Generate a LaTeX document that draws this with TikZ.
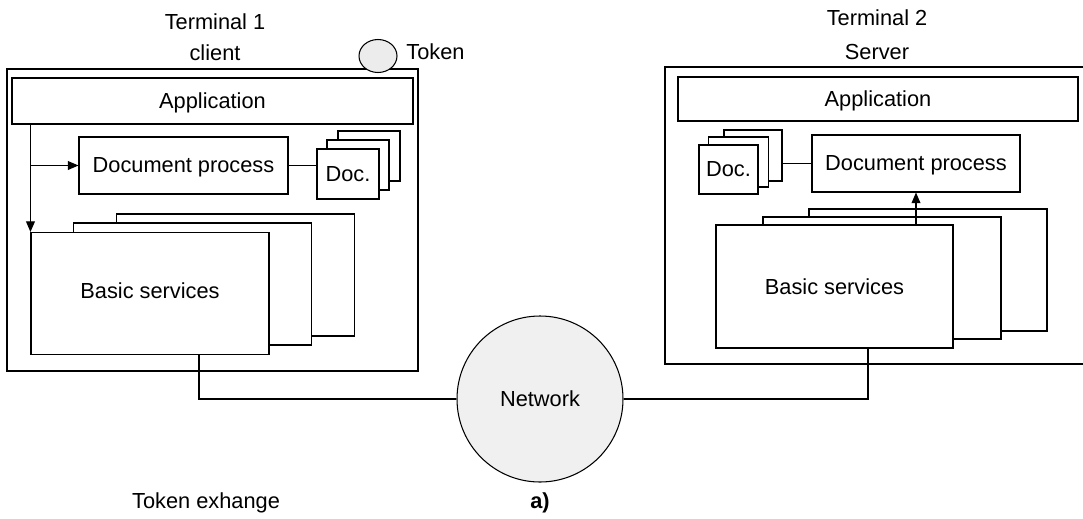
\documentclass[tikz,border=0pt]{standalone}
\usepackage{fontspec}
\setmainfont{Liberation Sans}
\usetikzlibrary{arrows.meta,shapes.geometric}

\begin{document}
\begin{tikzpicture}[x=0.02cm,y=-0.02cm,
                    font=\fontsize{12.4}{14}\selectfont,
                    line width=0.6pt,
                    blk/.style n args={2}{draw,fill=white,rectangle,
                    inner sep=0pt,text depth=0pt,
                    minimum width=#1*0.02cm,
                    minimum height=#2*0.02cm},
                    arr/.style={-{Triangle[length=6pt,width=5pt]}}]
    \useasboundingbox (0,0) rectangle (1083,518);
    \clip (0,0) rectangle (1083,518);

    \node (t1a) at (215,22) {Terminal 1};
    \node (t1b) at (215,53) {client};
    \node (t2a) at (877,18) {Terminal 2};
    \node (t2b) at (877,52) {Server};

    \node[blk={411}{302}] (term1) at (212.5,220) {};
    \node[blk={430}{297}] (term2) at (880,215.5) {};
    \node[ellipse,draw,fill=gray!15,inner sep=0pt,
          minimum width=38*0.02cm,minimum height=33*0.02cm] (tok) at (378,56) {};
    \node[anchor=west] (tokl) at (400,52) {Token};

    \node[blk={401}{46}] (app1) at (212.5,101) {Application};
    \node[blk={209}{57}] (dp1) at (183.5,165.5) {Document process};
    \node[blk={62}{50}] (doc1b) at (369,156) {};
    \node[blk={62}{50}] (doc1m) at (358,165) {};
    \node[blk={62}{50}] (doc1f) at (348,174) {Doc.};
    \node[blk={238}{122}] (bs1b) at (235.5,275) {};
    \node[blk={238}{122}] (bs1m) at (192.5,284) {};
    \node[blk={238}{122}] (bs1f) at (150,293.5) {\raisebox{3pt}{Basic services}};

    \node[blk={400}{44}] (app2) at (878,99) {Application};
    \node[blk={208}{57}] (dp2) at (916,163.5) {Document process};
    \node[blk={58}{51}] (doc2b) at (753,155.5) {};
    \node[blk={60}{50}] (doc2m) at (738.5,162) {};
    \node[blk={59}{49}] (doc2f) at (728.5,169.5) {Doc.};
    \node[blk={238}{122}] (bs2b) at (928,270) {};
    \node[blk={238}{122}] (bs2m) at (882,278) {};
    \node[blk={237}{123}] (bs2f) at (834.5,286.5) {Basic services};

    \node[circle,draw,fill=gray!12,inner sep=0pt,
          minimum size=166*0.02cm] (net) at (540,399) {Network};
    \node (lbl) at (540,503) {\textbf{a)}};
    \node (tex) at (206,503) {Token exhange};

    \coordinate (c1) at (199,354);
    \coordinate (c2) at (868,348);

    \draw[arr] (app1.south -| bs1f.north west) -- (bs1f.north west);
    \draw[arr] (bs1f.north west |- dp1.west) -- (dp1.west);
    \draw (dp1.east) -- (doc1f.west |- dp1.east);
    \draw (doc2b.east |- dp2.west) -- (dp2.west);
    \draw[arr] (bs2f.north -| dp2.south) -- (dp2.south);
    \draw (c1) |- (net.west);
    \draw (net.east) -| (c2);
\end{tikzpicture}
\end{document}
